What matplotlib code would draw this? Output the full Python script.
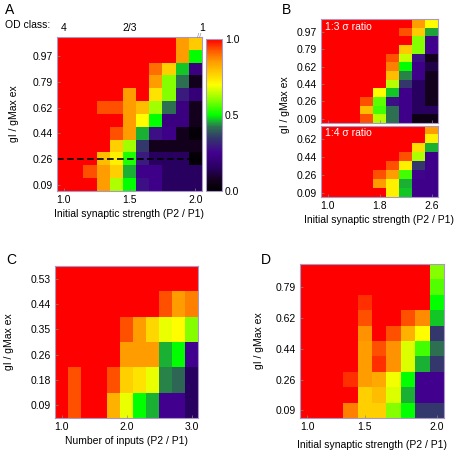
import numpy as np
import matplotlib
matplotlib.use("Agg")
import matplotlib.pyplot as plt
from matplotlib.colors import LinearSegmentedColormap

plt.rcParams['font.family'] = ['Liberation Sans', 'DejaVu Sans']
plt.rcParams['font.size'] = 7.5

# ---------------- data (rows listed top -> bottom) ----------------
# Panel A: 12 rows (gI/gMax ex) x 11 cols (initial synaptic strength 1.0..2.0)
A_xticklabels = ["1.0", "1.5", "2.0"]
A_xtickpos = [0, 5, 10]
A_yticklabels = ["0.97", "0.79", "0.62", "0.44", "0.26", "0.09"]
A_ytickpos = [1, 3, 5, 7, 9, 11]
A_vals = [
    [1, 1, 1, 1, 1, 1, 1, 1, 1, 0.85, 0.78],
    [1, 1, 1, 1, 1, 1, 1, 1, 1, 0.85, 0.50],
    [1, 1, 1, 1, 1, 1, 1, 0.90, 0.77, 0.47, 0.22],
    [1, 1, 1, 1, 1, 1, 1, 0.85, 0.60, 0.42, 0.07],
    [1, 1, 1, 1, 1, 0.85, 1, 0.74, 0.60, 0.30, 0.20],
    [1, 1, 1, 0.93, 0.93, 0.85, 0.80, 0.62, 0.42, 0.22, 0.07],
    [1, 1, 1, 1, 1, 0.85, 0.70, 0.50, 0.22, 0.22, 0.07],
    [1, 1, 1, 1, 0.93, 0.85, 0.46, 0.28, 0.24, 0.07, 0.02],
    [1, 1, 1, 1, 0.77, 0.62, 0.35, 0.07, 0.07, 0.07, 0.07],
    [1, 1, 1, 0.80, 0.72, 0.52, 0.30, 0.15, 0.15, 0.15, 0.02],
    [1, 1, 0.93, 0.85, 0.77, 0.46, 0.24, 0.24, 0.15, 0.15, 0.15],
    [1, 1, 1, 0.85, 0.63, 0.50, 0.28, 0.24, 0.15, 0.15, 0.15],
]
A_dashed_row = 9  # row of gI/gMax = 0.26
OD_labels = ["4", "2/3", "1"]

# Panel B: 1:3 sigma ratio (12 rows) and 1:4 sigma ratio (8 rows), 9 cols 1.0..2.6
B_xticklabels = ["1.0", "1.8", "2.6"]
B_xtickpos = [0, 4, 8]
B1_yticklabels = ["0.97", "0.79", "0.62", "0.44", "0.26", "0.09"]
B1_ytickpos = [1, 3, 5, 7, 9, 11]
B1_vals = [
    [1, 1, 1, 1, 1, 1, 1, 0.85, 0.70],
    [1, 1, 1, 1, 1, 1, 0.93, 0.78, 0.45],
    [1, 1, 1, 1, 1, 1, 1, 0.60, 0.26],
    [1, 1, 1, 1, 1, 1, 0.78, 0.60, 0.25],
    [1, 1, 1, 1, 1, 0.93, 0.65, 0.28, 0.07],
    [1, 1, 1, 1, 1, 0.88, 0.50, 0.24, 0.12],
    [1, 1, 1, 1, 1, 0.80, 0.43, 0.24, 0.07],
    [1, 1, 1, 1, 1, 0.64, 0.35, 0.15, 0.07],
    [1, 1, 1, 1, 0.70, 0.47, 0.24, 0.15, 0.07],
    [1, 1, 1, 0.93, 0.57, 0.28, 0.24, 0.15, 0.07],
    [1, 1, 1, 0.80, 0.55, 0.42, 0.24, 0.15, 0.15],
    [1, 1, 1, 0.93, 0.64, 0.42, 0.24, 0.05, 0.05],
]
B2_yticklabels = ["0.62", "0.44", "0.26", "0.09"]
B2_ytickpos = [1, 3, 5, 7]
B2_vals = [
    [1, 1, 1, 1, 1, 1, 1, 1, 0.85],
    [1, 1, 1, 1, 1, 1, 1, 1, 0.72],
    [1, 1, 1, 1, 1, 1, 1, 0.75, 0.46],
    [1, 1, 1, 1, 1, 1, 0.93, 0.63, 0.24],
    [1, 1, 1, 1, 1, 0.93, 0.72, 0.35, 0.24],
    [1, 1, 1, 1, 0.93, 0.85, 0.55, 0.26, 0.24],
    [1, 1, 1, 1, 0.85, 0.72, 0.46, 0.24, 0.24],
    [1, 1, 1, 1, 1, 0.72, 0.47, 0.24, 0.24],
]
B_titles = ["1:3 \u03c3 ratio", "1:4 \u03c3 ratio"]

# Panel C: 6 rows x 11 cols (number of inputs 1.0..3.0)
C_xticklabels = ["1.0", "2.0", "3.0"]
C_xtickpos = [0, 5, 10]
C_yticklabels = ["0.53", "0.44", "0.35", "0.26", "0.18", "0.09"]
C_ytickpos = [0, 1, 2, 3, 4, 5]
C_vals = [
    [1, 1, 1, 1, 1, 1, 1, 1, 1, 1, 1],
    [1, 1, 1, 1, 1, 1, 1, 1, 0.93, 0.85, 0.88],
    [1, 1, 1, 1, 1, 0.93, 0.85, 0.76, 0.68, 0.70, 0.60],
    [1, 1, 1, 1, 1, 0.85, 0.85, 0.85, 0.46, 0.50, 0.25],
    [1, 0.93, 1, 1, 0.93, 0.77, 0.74, 0.68, 0.43, 0.41, 0.15],
    [1, 0.93, 1, 1, 0.82, 0.68, 0.50, 0.46, 0.25, 0.25, 0.15],
]

# Panel D: 10 rows x 10 cols
D_xticklabels = ["1.0", "1.5", "2.0"]
D_xtickpos = [0, 4, 9]
D_yticklabels = ["0.79", "0.62", "0.44", "0.26", "0.09"]
D_ytickpos = [1, 3, 5, 7, 9]
D_vals = [
    [1, 1, 1, 1, 1, 1, 1, 1, 1, 0.60],
    [1, 1, 1, 1, 1, 1, 1, 1, 1, 0.56],
    [1, 1, 1, 1, 0.96, 1, 1, 1, 1, 0.50],
    [1, 1, 1, 1, 0.93, 1, 1, 0.93, 0.87, 0.47],
    [1, 1, 1, 1, 0.86, 1, 0.93, 0.82, 0.70, 0.35],
    [1, 1, 1, 1, 0.85, 0.93, 0.86, 0.67, 0.55, 0.42],
    [1, 1, 1, 1, 0.85, 0.96, 0.86, 0.67, 0.46, 0.35],
    [1, 1, 1, 0.96, 0.85, 0.83, 0.69, 0.50, 0.25, 0.25],
    [1, 1, 1, 1, 0.77, 0.80, 0.67, 0.46, 0.25, 0.25],
    [1, 1, 1, 0.88, 0.77, 0.77, 0.60, 0.50, 0.35, 0.35],
]

# ---------------- colormap ----------------
cmap = LinearSegmentedColormap.from_list("od", [
    (0.00, (0.0, 0.0, 0.0)),
    (0.07, (0.08, 0.0, 0.12)),
    (0.15, (0.16, 0.0, 0.38)),
    (0.25, (0.26, 0.0, 0.56)),
    (0.35, (0.20, 0.22, 0.42)),
    (0.42, (0.18, 0.44, 0.32)),
    (0.46, (0.10, 0.70, 0.20)),
    (0.50, (0.0, 1.0, 0.0)),
    (0.62, (0.63, 1.0, 0.0)),
    (0.70, (1.0, 1.0, 0.0)),
    (0.77, (1.0, 0.82, 0.0)),
    (0.85, (1.0, 0.62, 0.0)),
    (0.93, (1.0, 0.33, 0.0)),
    (1.00, (1.0, 0.0, 0.0)),
])

W, H = 455, 450
fig = plt.figure(figsize=(W / 100, H / 100), dpi=100)
SPINE = '#a898c8'


def rect(x0, y0, x1, y1):
    return [x0 / W, 1 - y1 / H, (x1 - x0) / W, (y1 - y0) / H]


def heat(ax, vals, xpos, xlab, ypos, ylab):
    im = ax.imshow(np.array(vals), cmap=cmap, vmin=0, vmax=1, aspect='auto',
                   origin='upper', interpolation='nearest')
    ax.set_xticks(xpos)
    ax.set_xticklabels(xlab)
    ax.set_yticks(ypos)
    ax.set_yticklabels(ylab)
    ax.tick_params(direction='in', length=2, width=0.5, color='#888888', pad=3)
    for s in ax.spines.values():
        s.set_color(SPINE)
        s.set_linewidth(0.8)
    return im


# Panel A
axA = fig.add_axes(rect(57, 37, 202, 191))
imA = heat(axA, A_vals, A_xtickpos, A_xticklabels, A_ytickpos, A_yticklabels)
axA.axhline(A_dashed_row, color='black', lw=1.2, ls=(0, (4, 2)))
axA.set_xlabel("Initial synaptic strength (P2 / P1)", labelpad=3)
axA.set_ylabel("gI / gMax ex", labelpad=10)
fig.text(5 / W, 1 - 25 / H, "OD class:", ha='left', va='center')
for lab, xp in zip(OD_labels, [0, 5, 10.5]):
    axA.text(xp, -1.2, lab, ha='center', va='center', transform=axA.transData)
axA.text(10.3, -0.55, "//", ha='center', va='center', fontsize=5.5, color='#888888',
         rotation=0)

# colorbar
cax = fig.add_axes(rect(206, 39, 222, 191))
cb = fig.colorbar(imA, cax=cax, ticks=[0, 0.5, 1.0])
cb.ax.set_yticklabels(["0.0", "0.5", "1.0"])
cb.ax.tick_params(length=0, pad=2)
cb.outline.set_edgecolor(SPINE)
cb.outline.set_linewidth(0.8)

# Panel B
axB1 = fig.add_axes(rect(321, 19, 438, 123))
heat(axB1, B1_vals, B_xtickpos, ["", "", ""], B1_ytickpos, B1_yticklabels)
axB2 = fig.add_axes(rect(321, 126, 438, 197))
heat(axB2, B2_vals, B_xtickpos, B_xticklabels, B2_ytickpos, B2_yticklabels)
for ax, t in zip([axB1, axB2], B_titles):
    ax.text(0.03, 0.97, t, color='white', ha='left', va='top', transform=ax.transAxes)
axB2.set_xlabel("Initial synaptic strength (P2 / P1)", labelpad=3)
fig.text(285 / W, 1 - 105 / H, "gI / gMax ex", rotation=90, ha='center', va='center')

# Panel C
axC = fig.add_axes(rect(55, 266, 198, 418))
heat(axC, C_vals, C_xtickpos, C_xticklabels, C_ytickpos, C_yticklabels)
axC.set_xlabel("Number of inputs (P2 / P1)", labelpad=3)
axC.set_ylabel("gI / gMax ex", labelpad=12)

# Panel D
axD = fig.add_axes(rect(300, 264, 444, 418))
heat(axD, D_vals, D_xtickpos, D_xticklabels, D_ytickpos, D_yticklabels)
axD.set_xlabel("Initial synaptic strength (P2 / P1)", labelpad=6)
axD.set_ylabel("gI / gMax ex", labelpad=8)

# panel letters
for lab, (x, y) in zip("ABCD", [(5, 10), (282, 10), (6, 260), (261, 260)]):
    fig.text(x / W, 1 - y / H, lab, fontsize=10, ha='left', va='center')

fig.savefig("out.png", dpi=100)
